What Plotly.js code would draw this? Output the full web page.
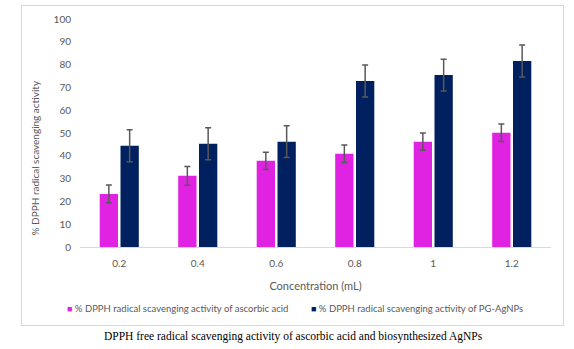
<!DOCTYPE html>
<html>
<head>
<meta charset="utf-8">
<script src="https://cdn.plot.ly/plotly-3.0.1.min.js"></script>
<style>
  html, body { margin: 0; padding: 0; background: #ffffff; }
  #wrap { position: relative; width: 574px; height: 349px; }
  #chart { position: absolute; left: 0; top: 0; width: 574px; height: 349px; }
  #frame { position: absolute; left: 21px; top: 5px; width: 541px; height: 319px;
           border: 1px solid #d9d9d9; pointer-events: none; }
</style>
</head>
<body>
<div id="wrap">
  <div id="chart"></div>
  <div id="frame"></div>
</div>
<script>
// ---- data ----
const categories = ["0.2", "0.4", "0.6", "0.8", "1", "1.2"];
const ascorbicName = "% DPPH radical scavenging activity of ascorbic acid";
const ascorbic = [23.3, 31.2, 37.8, 40.9, 46.2, 50.1];
const ascorbicErr = [3.9, 4.1, 3.8, 3.8, 3.8, 3.8];
const agnpName = "% DPPH radical scavenging activity of PG-AgNPs";
const agnp = [44.4, 45.3, 46.2, 72.8, 75.4, 81.6];
const agnpErr = [7.0, 7.0, 7.0, 7.0, 7.0, 7.0];
const xTitle = "Concentration (mL)";
const yTitle = "% DPPH radical scavenging activity";
const caption = "DPPH free radical scavenging activity of ascorbic acid and biosynthesized AgNPs";
const yTicks = [0, 10, 20, 30, 40, 50, 60, 70, 80, 90, 100];

const pink = "#e022e2";
const navy = "#002060";
const grey = "#595959";
const font = "Lato, Calibri, 'Liberation Sans', sans-serif";

const errStyle = { type: "data", visible: true, color: grey, thickness: 1.5, width: 3 };

const traces = [
  { type: "bar", name: ascorbicName, x: categories, y: ascorbic,
    marker: { color: pink },
    error_y: Object.assign({ array: ascorbicErr }, errStyle) },
  { type: "bar", name: agnpName, x: categories, y: agnp,
    marker: { color: navy },
    error_y: Object.assign({ array: agnpErr }, errStyle) }
];

// plot-area pixel geometry helpers (for legend/caption placement)
const L = 80, R = 23, T = 19, B = 102, W = 574, H = 349;
const pw = W - L - R, ph = H - T - B;
const px = X => (X - L) / pw;
const py = Y => (H - B - Y) / ph;

const layout = {
  width: W, height: H,
  margin: { l: L, r: R, t: T, b: B, pad: 0 },
  paper_bgcolor: "#ffffff",
  plot_bgcolor: "#ffffff",
  barmode: "group",
  bargap: 0.47,
  bargroupgap: 0.12,
  showlegend: false,
  font: { family: font, color: grey, size: 10 },
  xaxis: {
    type: "category",
    showline: true, linecolor: "#d9d9d9", linewidth: 1,
    showgrid: false, ticks: "",
    ticklabelstandoff: 7,
    tickfont: { family: font, size: 10, color: grey },
    title: { text: xTitle, font: { family: font, size: 11, color: grey }, standoff: 14 }
  },
  yaxis: {
    range: [0, 100],
    tickvals: yTicks,
    showgrid: false, zeroline: false, showline: false, ticks: "",
    ticklabelstandoff: 8,
    tickfont: { family: font, size: 10, color: grey }
  },
  annotations: [
    { xref: "paper", yref: "paper", x: px(34), y: py(238), xanchor: "center", yanchor: "bottom",
      textangle: -90, showarrow: false, font: { family: font, size: 10, color: grey },
      text: yTitle },
    { xref: "paper", yref: "paper", x: px(65), y: py(308), xanchor: "left", yanchor: "middle",
      showarrow: false, font: { family: font, size: 9.5, color: grey },
      text: '<span style="color:' + pink + ';font-size:9px">■</span> ' + ascorbicName },
    { xref: "paper", yref: "paper", x: px(309), y: py(308), xanchor: "left", yanchor: "middle",
      showarrow: false, font: { family: font, size: 9.5, color: grey },
      text: '<span style="color:' + navy + ';font-size:9px">■</span> ' + agnpName },
    { xref: "paper", yref: "paper", x: px(293), y: py(336), xanchor: "center", yanchor: "middle",
      showarrow: false, font: { family: "'Liberation Serif', 'Times New Roman', serif", size: 11.5, color: "#000000" },
      text: caption }
  ]
};

Plotly.newPlot("chart", traces, layout, { staticPlot: true, displayModeBar: false });
</script>
</body>
</html>
